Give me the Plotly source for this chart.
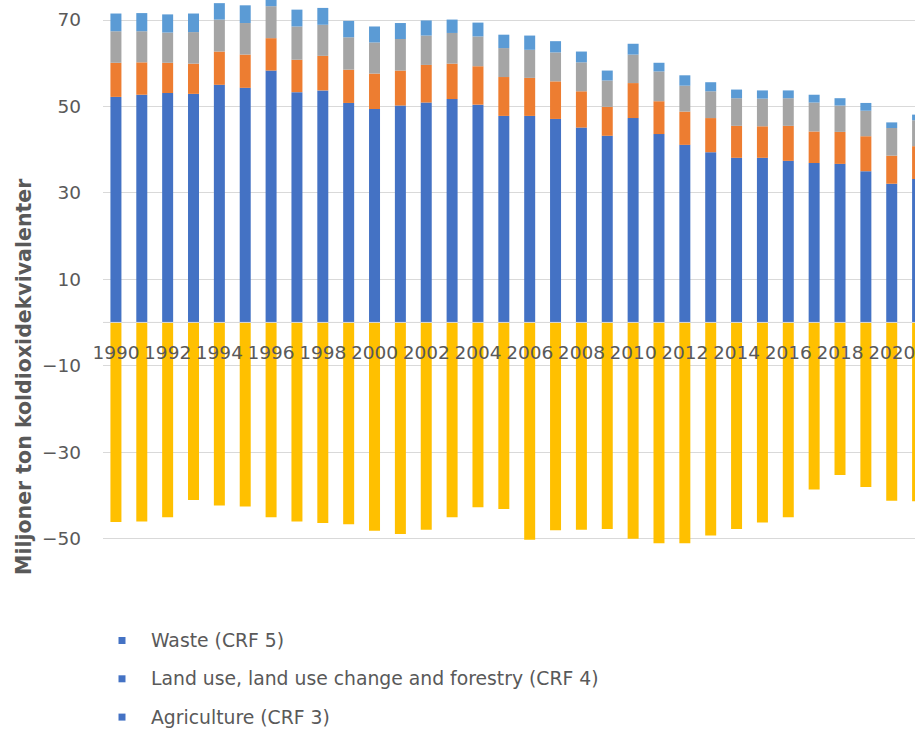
import plotly.graph_objects as go

# Greenhouse gas emissions and removals by sector, million tonnes CO2-eq
years = list(range(1990, 2022))

energy = [52.2, 52.7, 53.1, 52.9, 55.0, 54.3, 58.3, 53.3, 53.7, 50.8,
          49.4, 50.2, 50.9, 51.7, 50.4, 47.8, 47.8, 47.1, 45.1, 43.2,
          47.3, 43.6, 41.1, 39.4, 38.1, 38.1, 37.4, 36.9, 36.7, 35.0,
          32.1, 33.2]
industry = [7.9, 7.5, 7.0, 7.0, 7.7, 7.7, 7.5, 7.5, 8.0, 7.7,
            8.2, 8.1, 8.7, 8.2, 8.9, 9.0, 8.8, 8.7, 8.4, 6.7,
            8.1, 7.6, 7.7, 7.9, 7.4, 7.3, 8.1, 7.3, 7.4, 8.1,
            6.5, 7.6]
agriculture = [7.3, 7.2, 7.0, 7.3, 7.4, 7.3, 7.4, 7.7, 7.2, 7.5,
               7.2, 7.3, 6.8, 7.1, 6.9, 6.7, 6.5, 6.7, 6.7, 6.1,
               6.6, 6.9, 6.0, 6.2, 6.4, 6.4, 6.4, 6.7, 6.1, 5.9,
               6.4, 6.0]
waste = [4.1, 4.2, 4.2, 4.3, 3.8, 4.1, 4.0, 3.9, 3.9, 3.8,
         3.7, 3.7, 3.5, 3.1, 3.2, 3.1, 3.3, 2.6, 2.5, 2.3,
         2.5, 2.0, 2.4, 2.1, 2.0, 1.9, 1.8, 1.8, 1.7, 1.8,
         1.3, 1.3]
lulucf = [-46.2, -46.1, -45.1, -41.1, -42.4, -42.6, -45.1, -46.1, -46.4, -46.7,
          -48.2, -49.0, -48.0, -45.1, -42.8, -43.2, -50.3, -48.1, -48.0, -47.8,
          -50.1, -51.1, -51.1, -49.3, -47.8, -46.3, -45.1, -38.7, -35.3, -38.1,
          -41.3, -41.4]

series_names = ["Energy (CRF 1)",
                "Industrial processes and product use (CRF 2)",
                "Agriculture (CRF 3)",
                "Waste (CRF 5)",
                "Land use, land use change and forestry (CRF 4)"]
series_colors = ["#4472C4", "#ED7D31", "#A5A5A5", "#5B9BD5", "#FFC000"]

tick_years = list(range(1990, 2021, 2))
tick_labels = [str(y) for y in tick_years]
y_ticks = [-50, -30, -10, 10, 30, 50, 70]
y_title = "Miljoner ton koldioxidekvivalenter"
legend_labels = ["Waste (CRF 5)",
                 "Land use, land use change and forestry (CRF 4)",
                 "Agriculture (CRF 3)"]
legend_color = "#4472C4"

TEXT = "#595959"
GRID = "#D9D9D9"
FONT = "DejaVu Sans"

W, H = 915, 736
ML, MR, MT, MB = 103, 0, 0, 163
PW, PH = W - ML - MR, H - MT - MB
Y_MIN, Y_MAX = -58, 74.63


def paper(xp, yp):
    """Convert page pixels to paper coordinates of the plot area."""
    return (xp - ML) / PW, (H - MB - yp) / PH


fig = go.Figure()
for vals, name, color in zip([energy, industry, agriculture, waste, lulucf],
                             series_names, series_colors):
    fig.add_trace(go.Bar(x=years, y=vals, name=name,
                         marker=dict(color=color, line=dict(width=0)),
                         showlegend=False))

# horizontal category axis line at zero, drawn over the bars
shapes = [dict(type="line", xref="paper", yref="y", x0=0, x1=1, y0=0, y1=0,
               line=dict(color=GRID, width=1), layer="above")]
annotations = []

# legend drawn as a plain list below the chart
for i, label in enumerate(legend_labels):
    yc = 640.5 + i * 38.3
    x0, y0 = paper(118.5, yc - 3.5)
    x1, y1 = paper(125.5, yc + 3.5)
    shapes.append(dict(type="rect", xref="paper", yref="paper",
                       x0=x0, x1=x1, y0=y1, y1=y0,
                       fillcolor=legend_color, line=dict(width=0)))
    tx, ty = paper(149, yc)
    annotations.append(dict(text=label, xref="paper", yref="paper",
                            x=tx, y=ty, xanchor="left", yanchor="middle",
                            showarrow=False,
                            font=dict(family=FONT, size=18.8, color=TEXT)))

tx, ty = paper(24, 377)
annotations.append(dict(text="<b>" + y_title + "</b>", xref="paper", yref="paper",
                        x=tx, y=ty, xanchor="center", yanchor="middle",
                        textangle=-90, showarrow=False,
                        font=dict(family=FONT, size=20.5, color=TEXT)))

fig.update_layout(
    width=W, height=H,
    margin=dict(l=ML, r=MR, t=MT, b=MB, pad=0),
    paper_bgcolor="white", plot_bgcolor="white",
    barmode="relative", bargap=0.575,
    font=dict(family=FONT, color=TEXT),
    shapes=shapes, annotations=annotations,
    xaxis=dict(range=[1989.5, 2020.9], tickmode="array",
               tickvals=tick_years, ticktext=tick_labels, tickangle=0,
               anchor="free", position=(0 - Y_MIN) / (Y_MAX - Y_MIN),
               showgrid=False, showline=False, zeroline=False, ticks="",
               ticklabelstandoff=17, ticklabeloverflow="allow",
               tickfont=dict(family=FONT, size=18.5, color=TEXT)),
    yaxis=dict(range=[Y_MIN, Y_MAX], tickmode="array", tickvals=y_ticks,
               showgrid=True, gridcolor=GRID, gridwidth=1,
               zeroline=True, zerolinecolor=GRID, zerolinewidth=1,
               showline=False, ticks="", ticklabelstandoff=21,
               tickfont=dict(family=FONT, size=18.5, color=TEXT)),
)

fig.write_html("out.html")
